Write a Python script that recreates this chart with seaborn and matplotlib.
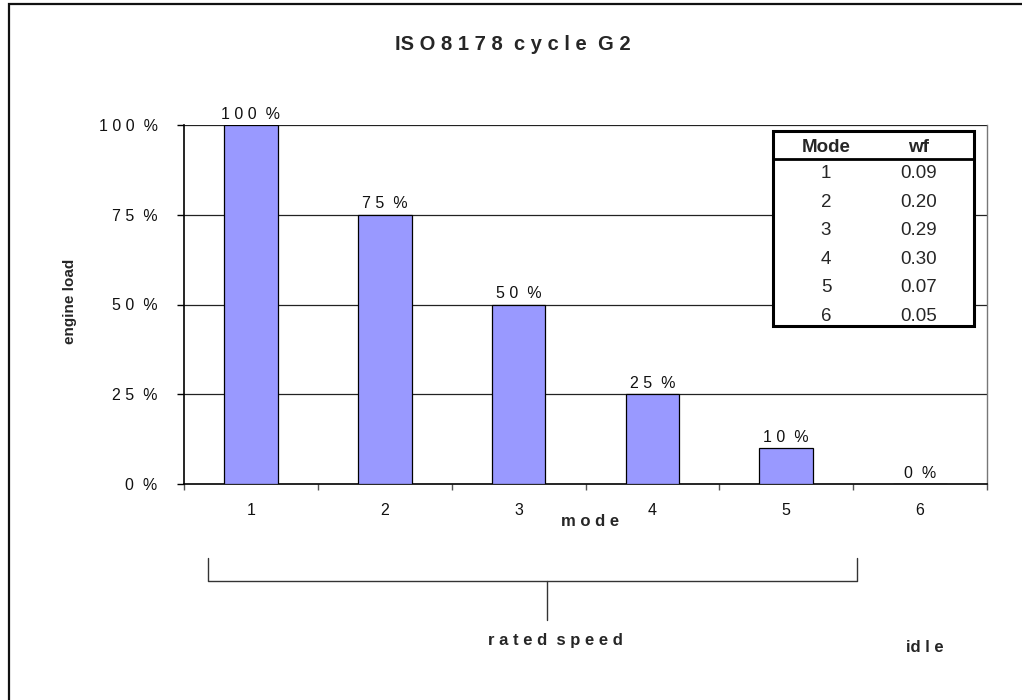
import matplotlib
matplotlib.use("Agg")
import matplotlib.pyplot as plt
from matplotlib.lines import Line2D
from matplotlib.patches import Rectangle
import seaborn as sns
import pandas as pd

# Test cycle data
modes = ["1", "2", "3", "4", "5", "6"]
engine_load = [100, 75, 50, 25, 10, 0]
weighting_factors = ["0.09", "0.20", "0.29", "0.30", "0.07", "0.05"]
y_ticks = [0, 25, 50, 75, 100]

sns.set_style("white")
plt.rcParams["font.family"] = ["Liberation Sans", "DejaVu Sans"]

W, H = 1022, 700
fig = plt.figure(figsize=(W / 100, H / 100), dpi=100)
fig.patch.set_facecolor("white")


def fx(px):
    return px / W


def fy(py):
    return 1 - py / H


def spaced(v):
    return " ".join(str(v)) + "  %"


ax = fig.add_axes([fx(184), fy(484), fx(987) - fx(184), fy(125) - fy(484)])

df = pd.DataFrame({"mode": modes, "load": engine_load})
sns.barplot(data=df, x="mode", y="load", order=modes, color="#9999FF",
            edgecolor="black", linewidth=0.9, width=0.4, saturation=1,
            ax=ax, zorder=3)

ax.set_xlim(-0.5, len(modes) - 0.5)
ax.set_ylim(0, 100)

# Gridlines and frame
for v in y_ticks[1:]:
    ax.axhline(v, color="#222222", lw=0.9, zorder=1)
ax.spines["top"].set_visible(False)
ax.spines["right"].set_color("#777777")
ax.spines["right"].set_linewidth(1.0)
ax.spines["left"].set_color("black")
ax.spines["left"].set_linewidth(1.2)
ax.spines["bottom"].set_color("black")
ax.spines["bottom"].set_linewidth(1.2)

# y ticks
ax.set_yticks(y_ticks)
ax.set_yticklabels([spaced(v) for v in y_ticks], fontsize=11.5,
                   color="#111111")
ax.tick_params(axis="y", direction="out", length=5, width=1, color="black",
               pad=14, left=True)

# x ticks: marks at category boundaries, labels at category centres
ax.set_xticks([i - 0.5 for i in range(len(modes) + 1)])
ax.set_xticklabels([])
ax.tick_params(axis="x", which="major", direction="out", length=4.5, width=1,
               color="#555555", bottom=True)
ax.set_xticks(range(len(modes)), minor=True)
ax.set_xticklabels(modes, minor=True, fontsize=11.5, color="#111111")
ax.tick_params(axis="x", which="minor", length=0, pad=14)
ax.set_xlabel("")
ax.set_ylabel("")

# value labels above bars
for i, v in enumerate(engine_load):
    ax.annotate(spaced(v), (i, v), xytext=(0, 2.5), textcoords="offset points",
                ha="center", va="bottom", fontsize=11.5, color="#111111")

# Titles and axis captions
fig.text(fx(513), fy(44), "IS O 8 1 7 8  c y c l e  G 2", ha="center",
         va="center", fontsize=14.5, fontweight="bold")
fig.text(fx(70), fy(301), "engine load", ha="center", va="center",
         rotation=90, fontsize=11, fontweight="bold")
fig.text(fx(590), fy(521), "m o d e", ha="center", va="center",
         fontsize=12, fontweight="bold")

# Bracket marking the rated speed modes
bk = dict(color="#333333", lw=1.0, transform=fig.transFigure)
fig.add_artist(Line2D([fx(208), fx(208), fx(857), fx(857)],
                      [fy(558), fy(581), fy(581), fy(558)], **bk))
fig.add_artist(Line2D([fx(547), fx(547)], [fy(581), fy(620)], **bk))
fig.text(fx(555), fy(640), "r a t e d  s p e e d", ha="center", va="center",
         fontsize=12, fontweight="bold")
fig.text(fx(925), fy(648), "id l e", ha="center", va="center",
         fontsize=12, fontweight="bold")

# Weighting factor table
tx0, ty0, tx1, ty1 = 773, 131, 974, 326
fig.add_artist(Rectangle((fx(tx0), fy(ty1)), fx(tx1) - fx(tx0),
                         fy(ty0) - fy(ty1), transform=fig.transFigure,
                         facecolor="white", edgecolor="black", lw=2.2,
                         zorder=5))
fig.add_artist(Line2D([fx(tx0), fx(tx1)], [fy(159), fy(159)], color="black",
                      lw=2.0, transform=fig.transFigure, zorder=6))
col1, col2 = 826, 919
fig.text(fx(col1), fy(148), "Mode", ha="center", va="center", fontsize=13.5,
         fontweight="bold", zorder=7)
fig.text(fx(col2), fy(148), "wf", ha="center", va="center", fontsize=13.5,
         fontweight="bold", zorder=7)
row_h = (315 - 172) / 5
for k, (m, w) in enumerate(zip(modes, weighting_factors)):
    yy = 173.5 + k * row_h
    fig.text(fx(col1), fy(yy), m, ha="center", va="center", fontsize=13.5,
             zorder=7)
    fig.text(fx(col2), fy(yy), w, ha="center", va="center", fontsize=13.5,
             zorder=7)

# Outer chart frame
fig.add_artist(Rectangle((fx(9), fy(760)), fx(1100), fy(4) - fy(760),
                         transform=fig.transFigure, fill=False,
                         edgecolor="#111111", lw=1.6))

fig.savefig("out.png", dpi=100)
